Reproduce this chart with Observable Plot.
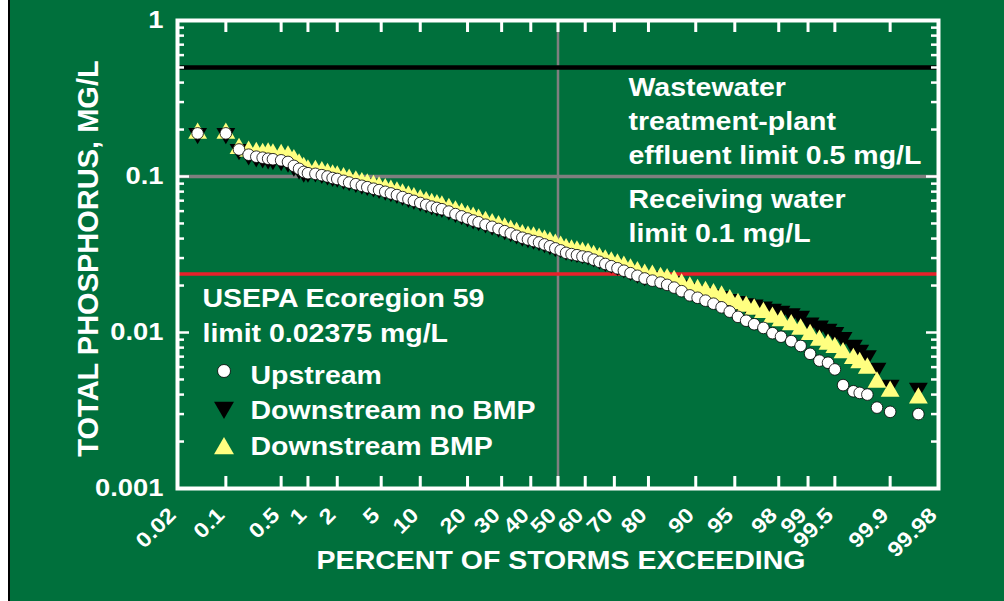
<!DOCTYPE html>
<html><head><meta charset="utf-8">
<script src="https://cdn.jsdelivr.net/npm/d3@7"></script>
<script src="https://cdn.jsdelivr.net/npm/@observablehq/plot@0.6"></script>
<style>
html,body{margin:0;padding:0;background:#00703c;overflow:hidden}
#wrap{position:relative;width:1004px;height:601px}
#chart svg{display:block}
#edgeW{position:absolute;left:0;top:0;width:8px;height:601px;background:#fff}
#edgeB{position:absolute;left:8px;top:0;width:2px;height:601px;background:#000}
</style></head>
<body><div id="wrap"><div id="chart"></div><div id="edgeW"></div><div id="edgeB"></div></div>
<script>
// ---------------- data ----------------
const pctExceeding = [0.04,0.1,0.15,0.2,0.25,0.3,0.35,0.4,0.5,0.6,
  0.7,0.8,0.9,1,1.2,1.4,1.6,1.8,2,2.3,
  2.6,3,3.4,3.8,4.3,4.8,5.4,6,6.7,7.4,
  8.2,9,10,11,12,13,14,15.5,17,18.5,
  20,21.5,23,25,27,29,31,33,35,37,
  39,41,43,45,47,49,51,53,55,57,
  59,61,63,65,67,69,71,73,75,77,
  79,81,83,84.5,86,87.5,89,90.3,91.5,92.6,
  93.6,94.5,95.3,96,96.6,97.2,97.7,98.1,98.5,98.8,
  99.05,99.25,99.4,99.5,99.6,99.7,99.75,99.8,99.85,99.9,
  99.96];
const upstream = [0.189,0.189,0.149,0.138,0.134,0.132,0.130,0.129,0.127,0.124,
  0.117,0.112,0.107,0.105,0.104,0.102,0.100,0.0978,0.0964,0.0938,
  0.0915,0.0893,0.0872,0.0854,0.0835,0.0818,0.0798,0.0779,0.0760,0.0738,
  0.0716,0.0698,0.0677,0.0658,0.0641,0.0629,0.0617,0.0596,0.0574,0.0555,
  0.0538,0.0522,0.0509,0.0491,0.0476,0.0461,0.0446,0.0432,0.0417,0.0405,
  0.0395,0.0386,0.0378,0.0367,0.0357,0.0346,0.0336,0.0324,0.0318,0.0313,
  0.0307,0.0303,0.0293,0.0284,0.0275,0.0266,0.0258,0.0249,0.0240,0.0231,
  0.0222,0.0215,0.0209,0.0202,0.0194,0.0184,0.0173,0.0167,0.0160,0.0153,
  0.0145,0.0136,0.0126,0.0119,0.0113,0.0107,0.0099,0.0094,0.0088,0.0082,
  0.0073,0.0066,0.0064,0.0058,0.0046,0.0042,0.0041,0.0040,0.0033,0.0031,
  0.0030];
const downstreamNoBMP = [0.189,0.189,0.149,0.138,0.134,0.132,0.130,0.129,0.127,0.124,
  0.117,0.112,0.107,0.107,0.1074,0.1053,0.103,0.1007,0.0993,0.0967,
  0.0943,0.0919,0.0898,0.0880,0.0860,0.0843,0.0822,0.0803,0.0783,0.0760,
  0.0738,0.0719,0.0698,0.0679,0.0661,0.0648,0.0636,0.0614,0.0591,0.0572,
  0.0554,0.0538,0.0524,0.0507,0.0490,0.0475,0.0459,0.0445,0.0430,0.0417,
  0.0407,0.0398,0.0389,0.0378,0.0367,0.0357,0.0351,0.0339,0.0332,0.0327,
  0.0321,0.0316,0.0306,0.0296,0.0287,0.0279,0.0270,0.0261,0.0251,0.0241,
  0.0232,0.0229,0.0221,0.0217,0.0212,0.0201,0.0192,0.0185,0.0180,0.0175,
  0.0170,0.0163,0.0158,0.0153,0.0150,0.0146,0.0141,0.0137,0.0132,0.0127,
  0.0115,0.0110,0.0105,0.0100,0.0093,0.0083,0.0077,0.0071,0.0059,0.0046,
  0.0044];
const downstreamBMP = [0.189,0.189,0.151,0.145,0.142,0.140,0.141,0.139,0.138,0.135,
  0.128,0.120,0.114,0.110,0.109,0.107,0.1045,0.102,0.1007,0.0981,
  0.0957,0.0933,0.0911,0.0893,0.0873,0.0855,0.0834,0.0814,0.0794,0.0771,
  0.0749,0.0729,0.0708,0.0688,0.0670,0.0658,0.0645,0.0623,0.0600,0.0580,
  0.0562,0.0546,0.0531,0.0514,0.0497,0.0482,0.0466,0.0451,0.0436,0.0423,
  0.0413,0.0409,0.0400,0.0390,0.0379,0.0367,0.0356,0.0344,0.0337,0.0332,
  0.0326,0.0321,0.0311,0.0301,0.0291,0.0283,0.0274,0.0265,0.0255,0.0245,
  0.0236,0.0232,0.0225,0.0221,0.0215,0.0204,0.0195,0.0188,0.0183,0.0177,
  0.0171,0.0162,0.0153,0.0147,0.0141,0.0134,0.0125,0.0119,0.0112,0.0105,
  0.0097,0.0089,0.0084,0.0080,0.0074,0.0068,0.0064,0.0059,0.0048,0.0042,
  0.0038];

const xTickValues = [0.02,0.1,0.5,1,2,5,10,20,30,40,50,60,70,80,90,95,98,99,99.5,99.9,99.98];
const xTickLabels = ["0.02","0.1","0.5","1","2","5","10","20","30","40","50","60","70","80","90","95","98","99","99.5","99.9","99.98"];
const yTickValues = [1,0.1,0.01,0.001];
const yTickLabels = ["1","0.1","0.01","0.001"];
const limitValues = [0.5, 0.1, 0.02375];
const limitLabels = ["Wastewater\ntreatment-plant\neffluent limit 0.5 mg/L",
                     "Receiving water\nlimit 0.1 mg/L",
                     "USEPA Ecoregion 59\nlimit 0.02375 mg/L"];
const seriesNames = ["Upstream", "Downstream no BMP", "Downstream BMP"];
const medianPct = 50;
const xTitle = "PERCENT OF STORMS EXCEEDING";
const yTitle = "TOTAL PHOSPHORUS, MG/L";

// ---------------- helpers ----------------
function probit(p) { // inverse standard normal CDF (Acklam)
  const a=[-3.969683028665376e+01,2.209460984245205e+02,-2.759285104469687e+02,1.383577518672690e+02,-3.066479806614716e+01,2.506628277459239e+00];
  const b=[-5.447609879822406e+01,1.615858368580409e+02,-1.556989798598866e+02,6.680131188771972e+01,-1.328068155288572e+01];
  const c=[-7.784894002430293e-03,-3.223964580411365e-01,-2.400758277161838e+00,-2.549732539343734e+00,4.374664141464968e+00,2.938163982698783e+00];
  const d=[7.784695709041462e-03,3.224671290700398e-01,2.445134137142996e+00,3.754408661907416e+00];
  const pl=0.02425, ph=1-pl; let q, r;
  if (p < pl) { q=Math.sqrt(-2*Math.log(p)); return (((((c[0]*q+c[1])*q+c[2])*q+c[3])*q+c[4])*q+c[5])/((((d[0]*q+d[1])*q+d[2])*q+d[3])*q+1); }
  if (p <= ph) { q=p-0.5; r=q*q; return (((((a[0]*r+a[1])*r+a[2])*r+a[3])*r+a[4])*r+a[5])*q/(((((b[0]*r+b[1])*r+b[2])*r+b[3])*r+b[4])*r+1); }
  q=Math.sqrt(-2*Math.log(1-p)); return -(((((c[0]*q+c[1])*q+c[2])*q+c[3])*q+c[4])*q+c[5])/((((d[0]*q+d[1])*q+d[2])*q+d[3])*q+1);
}
const zOf = pct => probit(pct / 100);
const sqrt3 = Math.sqrt(3);
const triangleDown = { draw(ctx, size) { const y = -Math.sqrt(size / (sqrt3 * 3)); ctx.moveTo(0, -y * 2); ctx.lineTo(-sqrt3 * y, y); ctx.lineTo(sqrt3 * y, y); ctx.closePath(); } };

const rowsOf = vals => pctExceeding.map((p, i) => ({p, v: vals[i]}));
const xTickZ = xTickValues.map(zOf);
const xLabelByZ = new Map(xTickZ.map((z, i) => [z, xTickLabels[i]]));
const yLabelByV = new Map(yTickValues.map((v, i) => [v, yTickLabels[i]]));
const minorY = d3.scaleLog().domain([0.001, 1]).ticks().filter(v => Math.abs(Math.log10(v) - Math.round(Math.log10(v))) > 1e-6);

const GREEN = "#00703c", YELLOW = "#ffff80", GRAY = "#7f7f7f", RED = "#e8202a";
const ML = 177, MR = 66, MT = 20, MB = 113;
const W = 1004 - ML - MR, H = 601 - MT - MB;
const FONT = "'Liberation Sans', Arial, Helvetica, sans-serif";
const txt = {fontWeight: "bold", fill: "white"};

const chart = Plot.plot({
  width: 1004, height: 601,
  marginLeft: ML, marginRight: MR, marginTop: MT, marginBottom: MB,
  x: {type: "linear", domain: [zOf(0.02), zOf(99.98)], axis: null},
  y: {type: "log", domain: [0.001, 1], axis: null},
  style: {background: GREEN, color: "white", fontFamily: FONT, overflow: "visible"},
  marks: [
    // reference lines
    Plot.ruleX([medianPct], {x: d => zOf(d), stroke: GRAY, strokeWidth: 2.5}),
    Plot.ruleY([limitValues[1]], {stroke: GRAY, strokeWidth: 3.5}),
    Plot.ruleY([limitValues[0]], {stroke: "black", strokeWidth: 4.5}),
    Plot.ruleY([limitValues[2]], {stroke: RED, strokeWidth: 3.5}),
    // inward ticks
    Plot.tickX(xTickZ, {x: d => d, insetTop: H - 12, stroke: "white", strokeWidth: 3}),
    Plot.tickX(xTickZ, {x: d => d, insetBottom: H - 12, stroke: "white", strokeWidth: 3}),
    Plot.tickY(yTickValues, {y: d => d, insetRight: W - 12, stroke: "white", strokeWidth: 2.5}),
    Plot.tickY(yTickValues, {y: d => d, insetLeft: W - 12, stroke: "white", strokeWidth: 2.5}),
    Plot.tickY(minorY, {y: d => d, insetRight: W - 7, stroke: "white", strokeWidth: 2.5}),
    Plot.tickY(minorY, {y: d => d, insetLeft: W - 7, stroke: "white", strokeWidth: 2.5}),
    Plot.frame({stroke: "white", strokeWidth: 4}),
    // axes
    Plot.axisX(xTickZ, {tickSize: 0, tickPadding: 23, dx: -5, tickRotate: -45, tickFormat: z => xLabelByZ.get(z), fontSize: 21, ...txt, label: null}),
    Plot.axisY(yTickValues, {tickSize: 0, tickPadding: 14, tickFormat: v => yLabelByV.get(v), fontSize: 24, ...txt, label: null}),
    Plot.text([xTitle], {frameAnchor: "bottom", dy: 72, dx: 3, textAnchor: "middle", lineAnchor: "middle", fontSize: 25, ...txt}),
    Plot.text([yTitle], {frameAnchor: "left", dx: -89, dy: 4, rotate: -90, textAnchor: "middle", lineAnchor: "middle", fontSize: 29, ...txt}),
    // data
    Plot.dot(rowsOf(downstreamNoBMP), {x: d => zOf(d.p), y: "v", symbol: triangleDown, r: 7, fill: "black"}),
    Plot.dot(rowsOf(downstreamBMP), {x: d => zOf(d.p), y: "v", symbol: "triangle", r: 7, fill: YELLOW}),
    Plot.dot(rowsOf(upstream), {x: d => zOf(d.p), y: "v", symbol: "circle", r: 5.8, fill: "white", stroke: "black", strokeWidth: 0.8}),
    // annotations
    Plot.text([limitLabels[0]], {y: () => limitValues[0], frameAnchor: "left", dx: 451, dy: 4, textAnchor: "start", lineAnchor: "top", lineHeight: 1.36, fontSize: 25, ...txt}),
    Plot.text([limitLabels[1]], {y: () => limitValues[1], frameAnchor: "left", dx: 451, dy: 8, textAnchor: "start", lineAnchor: "top", lineHeight: 1.34, fontSize: 25, ...txt}),
    Plot.text([limitLabels[2]], {y: () => limitValues[2], frameAnchor: "left", dx: 25, dy: 9, textAnchor: "start", lineAnchor: "top", lineHeight: 1.38, fontSize: 25, ...txt}),
    // legend
    Plot.dot([seriesNames[0]], {frameAnchor: "top-left", dx: 46.5, dy: 350.5, symbol: "circle", r: 6.5, fill: "white", stroke: "black", strokeWidth: 0.8}),
    Plot.dot([seriesNames[1]], {frameAnchor: "top-left", dx: 46.5, dy: 387, symbol: triangleDown, r: 7.4, fill: "black"}),
    Plot.dot([seriesNames[2]], {frameAnchor: "top-left", dx: 46.5, dy: 428, symbol: "triangle", r: 7.4, fill: YELLOW}),
    Plot.text([seriesNames[0]], {frameAnchor: "top-left", dx: 73, dy: 355, textAnchor: "start", lineAnchor: "middle", fontSize: 25, ...txt}),
    Plot.text([seriesNames[1]], {frameAnchor: "top-left", dx: 73, dy: 390, textAnchor: "start", lineAnchor: "middle", fontSize: 25, ...txt}),
    Plot.text([seriesNames[2]], {frameAnchor: "top-left", dx: 73, dy: 426, textAnchor: "start", lineAnchor: "middle", fontSize: 25, ...txt})
  ]
});
document.getElementById("chart").appendChild(chart);

// the reference's horizontal lettering is wider than Helvetica: stretch glyphs
function stretchText(svg, k) {
  for (const t of svg.querySelectorAll("text")) {
    if (t.textContent.startsWith("TOTAL")) continue;
    const spans = t.querySelectorAll("tspan");
    const targets = spans.length ? Array.from(spans) : [t];
    for (const el of targets) {
      const L = el.getComputedTextLength();
      if (L > 0) { el.setAttribute("textLength", (L * k).toFixed(2)); el.setAttribute("lengthAdjust", "spacingAndGlyphs"); }
    }
  }
}
stretchText(chart, 1.14);
</script></body></html>
